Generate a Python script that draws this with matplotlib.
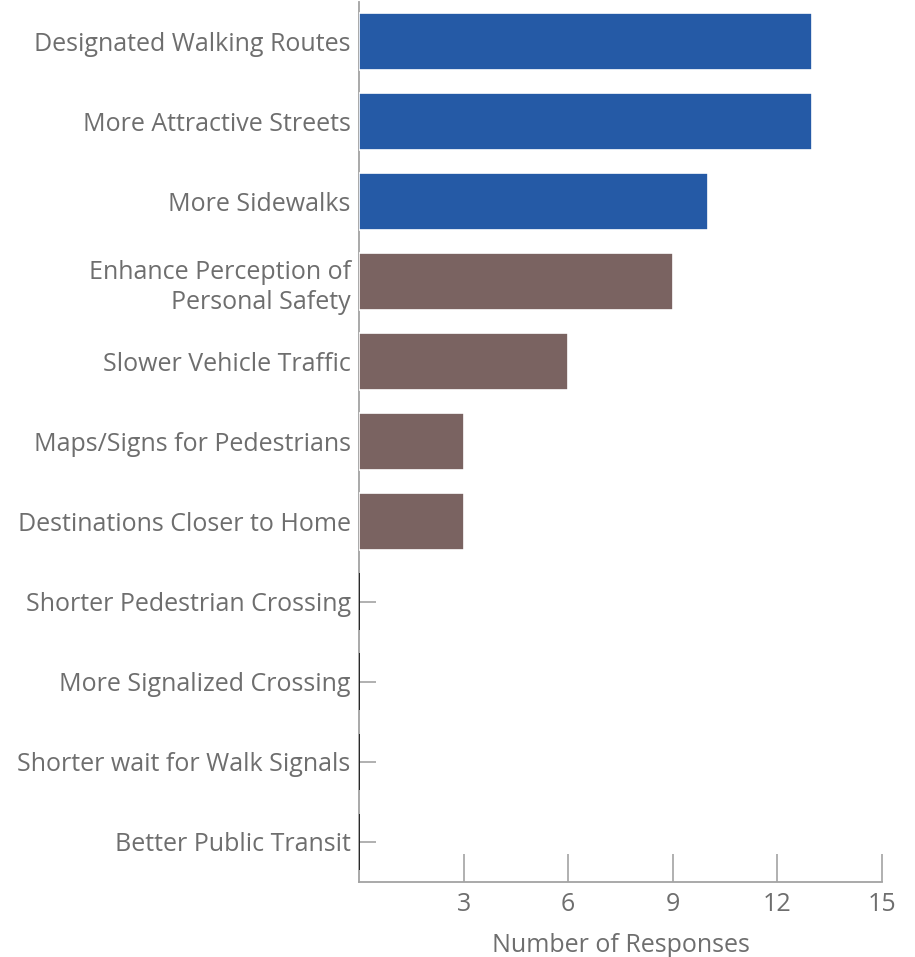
import matplotlib
matplotlib.use("Agg")
import matplotlib.pyplot as plt

# Survey responses: what would encourage more walking
categories = [
    "Designated Walking Routes",
    "More Attractive Streets",
    "More Sidewalks",
    "Enhance Perception of\nPersonal Safety",
    "Slower Vehicle Traffic",
    "Maps/Signs for Pedestrians",
    "Destinations Closer to Home",
    "Shorter Pedestrian Crossing",
    "More Signalized Crossing",
    "Shorter wait for Walk Signals",
    "Better Public Transit",
]
responses = [13, 13, 10, 9, 6, 3, 3, 0, 0, 0, 0]
top_group = [True, True, True, False, False, False, False, False, False, False, False]
x_ticks = [3, 6, 9, 12, 15]
x_label = "Number of Responses"

BLUE = "#255AA6"
BROWN = "#7A6361"
TEXT = "#6E6E6E"
AXIS = "#A3A3A3"
FS = 18

plt.rcParams["font.family"] = ["Open Sans", "DejaVu Sans"]

fig = plt.figure(figsize=(9.15, 9.57), dpi=100)
ax = fig.add_axes([359 / 915, 1 - 882 / 957, (882 - 359) / 915, (882 - 1.5) / 957])

ypos = list(range(len(categories)))
colors = [BLUE if g else BROWN for g in top_group]
for y, v, c in zip(ypos, responses, colors):
    if v > 0:
        ax.barh(y, v, height=0.71, color=c, edgecolor="white", linewidth=1.2, zorder=3)
    else:
        ax.barh(y, v, height=0.71, color=c, edgecolor="#111111", linewidth=1.2, zorder=3)

ax.set_ylim(len(categories) - 0.5, -0.5)
ax.set_xlim(0, 15)

ax.set_yticks(ypos)
ax.set_yticklabels(categories, linespacing=1.3)
ax.set_xticks(x_ticks)
ax.set_xlabel(x_label, color=TEXT, fontsize=FS, labelpad=12)

for s in ("top", "right"):
    ax.spines[s].set_visible(False)
for s in ("left", "bottom"):
    ax.spines[s].set_color(AXIS)
    ax.spines[s].set_linewidth(1.3)
    ax.spines[s].set_zorder(1)

ax.tick_params(axis="y", direction="in", length=12, width=1.2, color=AXIS,
               labelcolor=TEXT, labelsize=FS, pad=6)
ax.tick_params(axis="x", direction="in", length=20, width=1.2, color=AXIS,
               labelcolor=TEXT, labelsize=FS, pad=7)
for t in ax.yaxis.get_major_ticks():
    t.tick1line.set_zorder(1)

fig.savefig("out.png", dpi=100)
